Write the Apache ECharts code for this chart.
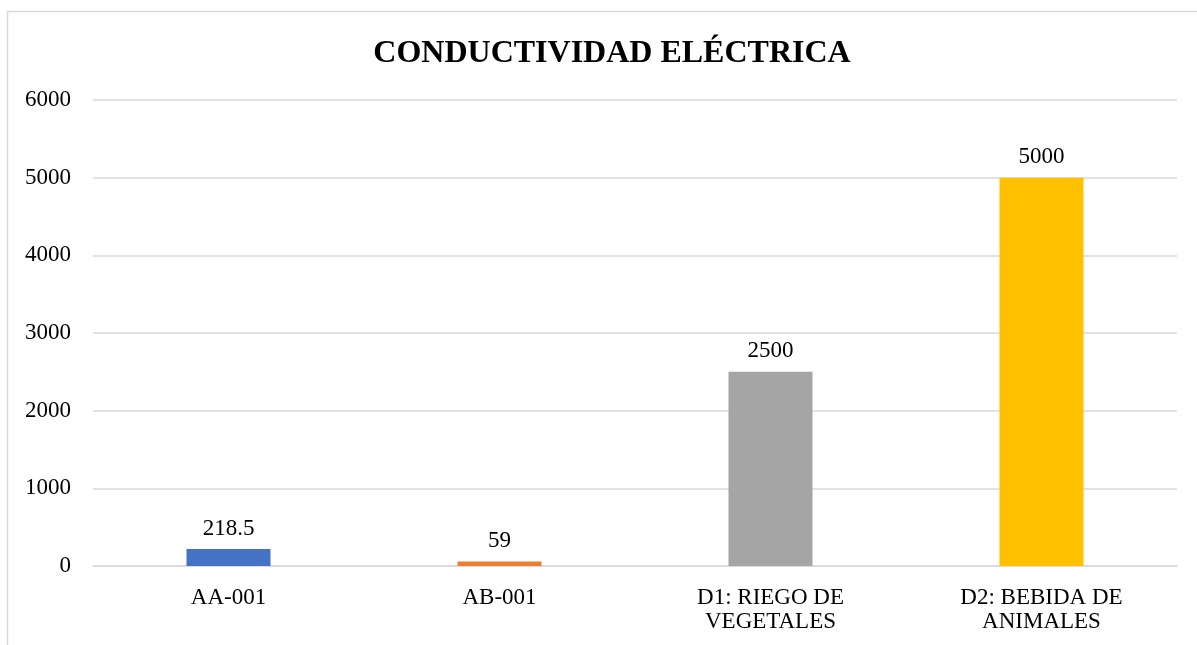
<!DOCTYPE html>
<html>
<head>
<meta charset="utf-8">
<script src="https://cdn.jsdelivr.net/npm/echarts@6/dist/echarts.min.js"></script>
<style>
  html, body { margin: 0; padding: 0; background: #ffffff; }
  #chart { width: 1197px; height: 645px; }
</style>
</head>
<body>
<div id="chart"></div>
<script>
// Conductividad eléctrica: muestras frente a límites D1 / D2
const titleText = 'CONDUCTIVIDAD ELÉCTRICA';
const categories = ['AA-001', 'AB-001', 'D1: RIEGO DE\nVEGETALES', 'D2: BEBIDA DE\nANIMALES'];
const values = [218.5, 59, 2500, 5000];
const barColors = ['#4472C4', '#ED7D31', '#A5A5A5', '#FFC000'];
const yTicks = { min: 0, max: 6000, interval: 1000 };

const serif = '"Liberation Serif", "Times New Roman", serif';
const chart = echarts.init(document.getElementById('chart'), null, { renderer: 'canvas' });

chart.setOption({
  animation: false,
  backgroundColor: '#ffffff',
  graphic: [{
    type: 'rect',
    shape: { x: 7.5, y: 11.5, width: 1250, height: 700 },
    style: { fill: 'none', stroke: '#d9d9d9', lineWidth: 1.5 },
    silent: true,
    z: -1
  }],
  title: {
    text: titleText,
    left: 607,
    top: 33,
    textAlign: 'center',
    textStyle: { fontFamily: serif, fontWeight: 'bold', fontSize: 32, color: '#000000' }
  },
  grid: { left: 93, right: 20, top: 100, bottom: 79, containLabel: false },
  xAxis: {
    type: 'category',
    data: categories,
    axisLine: { show: true, lineStyle: { color: '#d9d9d9', width: 1.5 } },
    axisTick: { show: false },
    axisLabel: {
      interval: 0,
      margin: 20,
      fontFamily: serif,
      fontSize: 23,
      lineHeight: 24,
      color: '#000000'
    }
  },
  yAxis: {
    type: 'value',
    min: yTicks.min,
    max: yTicks.max,
    interval: yTicks.interval,
    axisLine: { show: false },
    axisTick: { show: false },
    splitLine: { lineStyle: { color: '#d9d9d9', width: 1.5 } },
    axisLabel: {
      margin: 22,
      fontFamily: serif,
      fontSize: 23,
      color: '#000000',
      formatter: (v) => String(v)
    }
  },
  series: [{
    type: 'bar',
    barWidth: '31%',
    data: values.map((v, i) => ({ value: v, itemStyle: { color: barColors[i] } })),
    label: {
      show: true,
      position: 'top',
      distance: 9,
      fontFamily: serif,
      fontSize: 23,
      color: '#000000'
    }
  }]
});
</script>
</body>
</html>
